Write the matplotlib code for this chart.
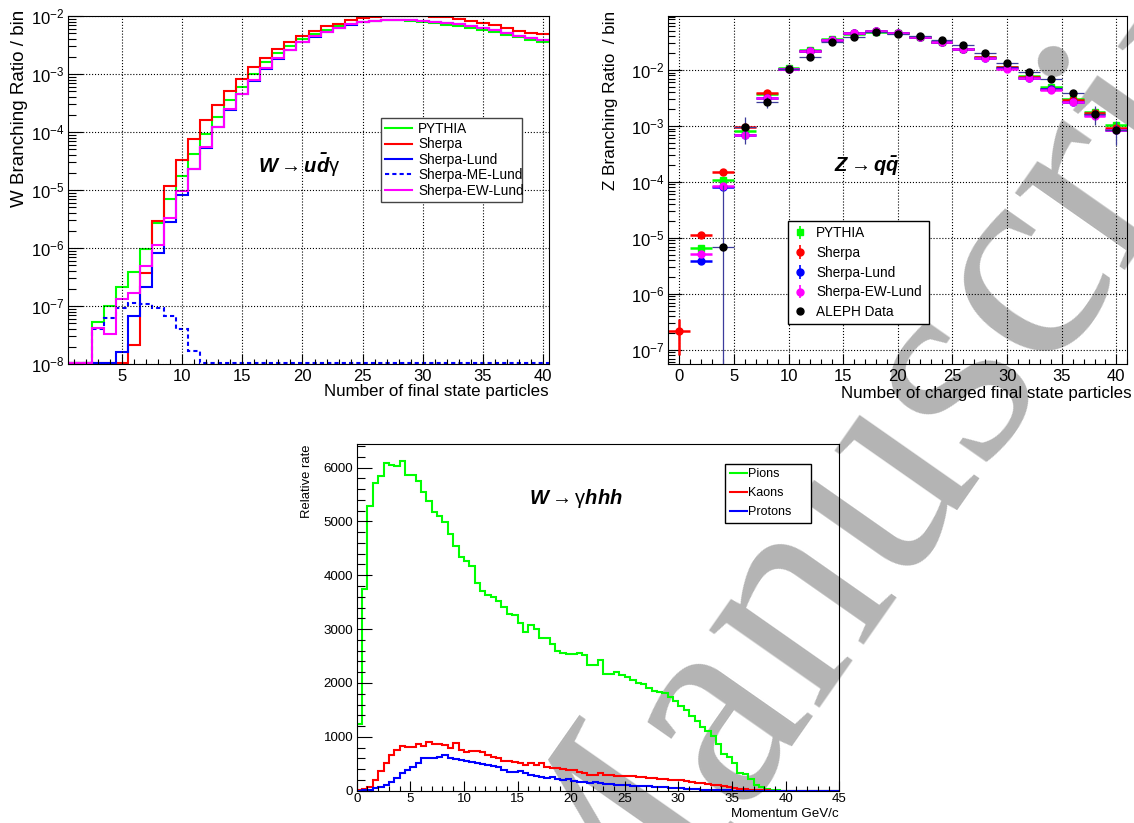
import numpy as np
import matplotlib
matplotlib.use('Agg')
import matplotlib.pyplot as plt
from matplotlib.ticker import MultipleLocator, LogLocator, NullFormatter
from matplotlib.lines import Line2D

plt.rcParams['font.family'] = ['Liberation Sans', 'DejaVu Sans']
plt.rcParams['mathtext.fontset'] = 'custom'
plt.rcParams['mathtext.rm'] = 'Liberation Sans'
plt.rcParams['mathtext.it'] = 'Liberation Sans:italic'
plt.rcParams['mathtext.bf'] = 'Liberation Sans:bold:italic'

nan = np.nan

# ---- W -> u dbar gamma : multiplicity of final state particles (n = 1..40)
w_n = np.arange(1, 41)
w_pythia = [0, 0, 5.4e-8, 1.0e-7, 2.15e-7, 3.8e-7, 9.5e-7, 2.7e-6, 7.1e-6, 1.75e-5,
            4.1e-5, 9.1e-5, 1.85e-4, 3.5e-4, 6.0e-4, 1.0e-3, 1.58e-3, 2.3e-3, 3.1e-3, 4.0e-3,
            4.9e-3, 5.7e-3, 6.6e-3, 7.3e-3, 7.8e-3, 8.2e-3, 8.4e-3, 8.4e-3, 8.2e-3, 7.9e-3,
            7.5e-3, 7.1e-3, 6.7e-3, 6.2e-3, 5.7e-3, 5.3e-3, 4.7e-3, 4.3e-3, 3.9e-3, 3.5e-3]
w_sherpa = [0, 0, 0, 0, 0, 2.1e-8, 3.7e-7, 2.9e-6, 1.17e-5, 3.3e-5,
            7.7e-5, 1.58e-4, 2.9e-4, 5.1e-4, 8.1e-4, 1.3e-3, 1.9e-3, 2.66e-3, 3.5e-3, 4.5e-3,
            5.6e-3, 6.6e-3, 7.4e-3, 8.5e-3, 9.3e-3, 9.8e-3, 1.0e-2, 1.0e-2, 1.0e-2, 9.9e-3,
            9.7e-3, 9.5e-3, 9.0e-3, 8.2e-3, 7.5e-3, 6.9e-3, 6.3e-3, 5.6e-3, 5.0e-3, 4.8e-3]
w_lund = [0, 0, 0, 0, 1.6e-8, 6.8e-8, 2.1e-7, 8.3e-7, 2.8e-6, 8.1e-6,
          2.3e-5, 5.4e-5, 1.2e-4, 2.4e-4, 4.5e-4, 7.7e-4, 1.24e-3, 1.85e-3, 2.6e-3, 3.55e-3,
          4.4e-3, 5.3e-3, 6.2e-3, 7.1e-3, 7.8e-3, 8.2e-3, 8.5e-3, 8.6e-3, 8.5e-3, 8.3e-3,
          8.0e-3, 7.6e-3, 7.2e-3, 6.7e-3, 6.2e-3, 5.7e-3, 5.1e-3, 4.6e-3, 4.2e-3, 3.8e-3]
w_me_lund = [0, 0, 4.0e-8, 6.1e-8, 9.1e-8, 1.14e-7, 1.1e-7, 9.1e-8, 6.7e-8, 4.0e-8,
             1.7e-8] + [0] * 29
w_ew_lund = [0, 0, 4.1e-8, 3.3e-8, 1.3e-7, 1.66e-7, 4.8e-7, 1.12e-6, 3.3e-6, 9.5e-6,
             2.3e-5, 5.6e-5, 1.22e-4, 2.45e-4, 4.6e-4, 7.8e-4, 1.25e-3, 1.87e-3, 2.62e-3, 3.6e-3,
             4.5e-3, 5.4e-3, 6.3e-3, 7.2e-3, 7.9e-3, 8.3e-3, 8.5e-3, 8.6e-3, 8.5e-3, 8.3e-3,
             8.0e-3, 7.6e-3, 7.2e-3, 6.7e-3, 6.2e-3, 5.7e-3, 5.1e-3, 4.6e-3, 4.2e-3, 3.8e-3]

# ---- Z -> q qbar : charged multiplicity (even n)
z_n = np.arange(0, 41, 2)
z_pythia = [nan, 6.6e-6, 1.1e-4, 8.1e-4, 3.7e-3, 1.1e-2, 2.28e-2, 3.5e-2, 4.4e-2, 4.8e-2, 4.5e-2,
            3.9e-2, 3.2e-2, 2.4e-2, 1.73e-2, 1.15e-2, 7.8e-3, 4.9e-3, 3.0e-3, 1.78e-3, 1.02e-3]
z_sherpa = [2.2e-7, 1.13e-5, 1.48e-4, 9.7e-4, 3.9e-3, 1.04e-2, 2.15e-2, 3.4e-2, 4.5e-2, 4.9e-2, 4.5e-2,
            3.9e-2, 3.2e-2, 2.4e-2, 1.7e-2, 1.12e-2, 7.6e-3, 4.6e-3, 2.85e-3, 1.7e-3, 9.2e-4]
z_sherpa_err = [1.4e-7] + [0] * 20
z_lund = [nan, 3.8e-6, 8.0e-5, 6.8e-4, 3.2e-3, 1.02e-2, 2.15e-2, 3.4e-2, 4.6e-2, 5.0e-2, 4.6e-2,
          3.9e-2, 3.1e-2, 2.35e-2, 1.65e-2, 1.07e-2, 7.3e-3, 4.5e-3, 2.65e-3, 1.55e-3, 8.4e-4]
z_ew_lund = [nan, 5.1e-6, 8.6e-5, 6.8e-4, 3.2e-3, 1.02e-2, 2.2e-2, 3.4e-2, 4.6e-2, 5.0e-2, 4.6e-2,
             3.9e-2, 3.1e-2, 2.34e-2, 1.64e-2, 1.06e-2, 7.2e-3, 4.45e-3, 2.64e-3, 1.5e-3, 8.5e-4]
z_aleph = [nan, nan, 6.9e-6, 9.5e-4, 2.7e-3, 1.03e-2, 1.73e-2, 3.2e-2, 3.9e-2, 4.7e-2, 4.4e-2,
           4.05e-2, 3.4e-2, 2.75e-2, 2.04e-2, 1.32e-2, 9.2e-3, 6.8e-3, 3.83e-3, 1.63e-3, 8.3e-4]
z_aleph_err = [nan, nan, 8.0e-5, 4.8e-4, 6.0e-4, 6e-4, 8e-4, 1.2e-3, 1.3e-3, 1.4e-3, 1.3e-3,
               1.2e-3, 1.1e-3, 1.0e-3, 8e-4, 7e-4, 6e-4, 5e-4, 6e-4, 6e-4, 3.8e-4]

# ---- W -> gamma h h h : hadron momentum spectra, 0.5 GeV/c bins
p_edges = np.arange(0, 45.01, 0.5)
pions = [1230, 3750, 5290, 5720, 5840, 6090, 6040, 6020, 6130, 5870,
         5870, 5750, 5550, 5380, 5180, 5100, 4980, 4770, 4550, 4340,
         4260, 4170, 3860, 3700, 3640, 3600, 3520, 3410, 3280, 3260,
         3120, 2950, 3070, 3010, 2840, 2840, 2720, 2590, 2560, 2540,
         2540, 2560, 2510, 2340, 2330, 2420, 2170, 2170, 2200, 2150,
         2110, 2050, 2000, 1980, 1910, 1850, 1830, 1810, 1740, 1660,
         1570, 1490, 1380, 1290, 1180, 1100, 1020, 870, 680, 620,
         520, 335, 310, 210, 105, 60, 30, 12, 5, 2,
         0, 0, 0, 0, 0, 0, 0, 0, 0, 0]
kaons = [15, 40, 75, 200, 365, 505, 660, 750, 825, 810,
         810, 865, 825, 905, 875, 865, 850, 785, 890, 755,
         720, 740, 740, 710, 660, 630, 615, 555, 555, 525,
         520, 475, 520, 475, 505, 445, 430, 415, 395, 385,
         385, 350, 320, 290, 300, 330, 300, 285, 280, 278,
         270, 265, 255, 250, 240, 235, 225, 210, 200, 195,
         190, 175, 170, 150, 140, 128, 115, 100, 85, 60,
         45, 35, 25, 18, 12, 8, 5, 3, 0, 0,
         0, 0, 0, 0, 0, 0, 0, 0, 0, 0]
protons = [3, 8, 20, 43, 74, 105, 167, 228, 333, 383,
           432, 506, 600, 600, 600, 630, 660, 600, 586, 568,
           556, 537, 519, 494, 475, 457, 444, 383, 340, 340,
           364, 321, 290, 278, 259, 228, 247, 216, 198, 210,
           185, 167, 154, 136, 167, 140, 120, 130, 115, 105,
           100, 95, 90, 85, 80, 75, 65, 60, 55, 50,
           45, 40, 32, 28, 22, 18, 14, 10, 7, 5,
           3, 0, 0, 0, 0, 0, 0, 0, 0, 0,
           0, 0, 0, 0, 0, 0, 0, 0, 0, 0]

GREEN, RED, BLUE, MAGENTA = '#00ff00', '#ff0000', '#0000ff', '#ff00ff'
W, H = 1134, 823


def fx(x):
    return x / W


def fy(y):
    return 1 - y / H


def root_axes(ax, fs):
    ax.set_facecolor('none')
    ax.tick_params(which='both', direction='in', top=False, right=False,
                   labelsize=fs, width=0.8, color='black')


def root_legend(ax, handles, x, y, w, fs, **kw):
    leg = ax.legend(handles=handles, loc='upper left', mode='expand',
                    bbox_to_anchor=(fx(x), fy(y), fx(w), 0), bbox_transform=fig.transFigure,
                    borderaxespad=0, fontsize=fs, frameon=True, fancybox=False,
                    edgecolor='black', framealpha=1, **kw)
    leg.get_frame().set_linewidth(1.0)
    return leg


fig = plt.figure(figsize=(W / 100, H / 100), dpi=100)
fig.patch.set_facecolor('white')

# ================= panel 1 =================
ax1 = fig.add_axes([fx(68.3), fy(364), fx(548.7 - 68.3), (364 - 16) / H])
root_axes(ax1, 12)
ymin1 = 1e-8
edges_w = np.append(w_n - 0.5, w_n[-1] + 0.5)
series_w = [(w_pythia, GREEN, '-', 'PYTHIA'),
            (w_sherpa, RED, '-', 'Sherpa'),
            (w_lund, BLUE, '-', 'Sherpa-Lund'),
            (w_me_lund, BLUE, (0, (2, 1.5)), 'Sherpa-ME-Lund'),
            (w_ew_lund, MAGENTA, '-', 'Sherpa-EW-Lund')]
handles1 = []
for vals, col, ls, lab in series_w:
    # empty bins sit on the floor of the log axis
    v = np.clip(np.array(vals, dtype=float), ymin1 * 1.05, None)
    ax1.stairs(v, edges_w, baseline=None, color=col, lw=1.5, ls=ls)
    handles1.append(Line2D([], [], color=col, lw=1.5, ls=ls, label=lab))
ax1.set_yscale('log')
ax1.set_xlim(0.5, 40.5)
ax1.set_ylim(ymin1, 1e-2)
ax1.xaxis.set_major_locator(MultipleLocator(5))
ax1.xaxis.set_minor_locator(MultipleLocator(1))
ax1.yaxis.set_major_locator(LogLocator(base=10, numticks=12))
ax1.yaxis.set_minor_locator(LogLocator(base=10, subs=np.arange(2, 10), numticks=12))
ax1.yaxis.set_minor_formatter(NullFormatter())
ax1.tick_params(axis='x', which='major', length=7, pad=3.5)
ax1.tick_params(axis='x', which='minor', length=3.5)
ax1.tick_params(axis='y', which='major', length=11, pad=3)
ax1.tick_params(axis='y', which='minor', length=5.5)
ax1.grid(True, which='major', ls=':', color='black', lw=0.8)
leg1 = root_legend(ax1, handles1, 380.7, 118, 141.3, 9.8, handlelength=2.0,
                   handletextpad=0.45, labelspacing=0.1, borderpad=0.3)
leg1.get_frame().set_edgecolor('#444444')
fig.text(fx(299), fy(165), r'$\mathbf{W}\rightarrow\mathbf{u\bar{d}}\mathrm{\gamma}$',
         ha='center', va='center', fontsize=14.5)
fig.text(fx(549), fy(392), 'Number of final state particles', ha='right', va='center', fontsize=12.2)
fig.text(fx(20), fy(10), 'W Branching Ratio / bin', rotation=90, ha='center', va='top', fontsize=13.5)

# ================= panel 2 =================
ax2 = fig.add_axes([fx(668.3), fy(364), fx(1127.3 - 668.3), (364 - 16) / H])
root_axes(ax2, 12)
series_z = [(z_pythia, GREEN, 's', 4.5, 'PYTHIA'),
            (z_sherpa, RED, 'o', 5, 'Sherpa'),
            (z_lund, BLUE, 'o', 5, 'Sherpa-Lund'),
            (z_ew_lund, MAGENTA, 'o', 5, 'Sherpa-EW-Lund')]
handles2 = []
for vals, col, mk, ms, lab in series_z:
    yerr = z_sherpa_err if lab == 'Sherpa' else None
    ax2.errorbar(z_n, vals, xerr=1, yerr=yerr, fmt=mk, ms=ms, color=col, ecolor=col,
                 elinewidth=1.8, capsize=0)
    handles2.append(ax2.errorbar([nan], [nan], yerr=[1], fmt=mk, ms=ms, color=col,
                                 elinewidth=1.2, capsize=0, label=lab))
ax2.errorbar(z_n, z_aleph, xerr=1, yerr=z_aleph_err, fmt='o', ms=5, color='black',
             ecolor='#3c3c9c', elinewidth=0.9, capsize=0, zorder=5)
handles2.append(Line2D([], [], ls='none', marker='o', ms=5, color='black', label='ALEPH Data'))
ax2.set_yscale('log')
ax2.set_xlim(-1, 41)
ax2.set_ylim(5.6e-8, 0.092)
ax2.xaxis.set_major_locator(MultipleLocator(5))
ax2.xaxis.set_minor_locator(MultipleLocator(1))
ax2.yaxis.set_major_locator(LogLocator(base=10, numticks=12))
ax2.yaxis.set_minor_locator(LogLocator(base=10, subs=np.arange(2, 10), numticks=12))
ax2.yaxis.set_minor_formatter(NullFormatter())
ax2.tick_params(axis='x', which='major', length=7, pad=3.5)
ax2.tick_params(axis='x', which='minor', length=3.5)
ax2.tick_params(axis='y', which='major', length=10, pad=3)
ax2.tick_params(axis='y', which='minor', length=5)
ax2.grid(True, which='major', ls=':', color='black', lw=0.8)
root_legend(ax2, handles2, 787.7, 220.7, 141.6, 9.8, handlelength=1.0,
            handletextpad=0.7, labelspacing=0.42, borderpad=0.4)
fig.text(fx(867), fy(166), r'$\mathbf{Z}\rightarrow\mathbf{q\bar{q}}$',
         ha='center', va='center', fontsize=14.5)
fig.text(fx(1132), fy(393), 'Number of charged final state particles', ha='right', va='center',
         fontsize=12.2)
fig.text(fx(610), fy(11), 'Z Branching Ratio  / bin', rotation=90, ha='center', va='top', fontsize=12.3)

# ================= panel 3 =================
ax3 = fig.add_axes([fx(356.7), fy(790.7), fx(839.3 - 356.7), (790.7 - 444) / H])
root_axes(ax3, 9.6)
handles3 = []
for vals, col, lab in [(pions, GREEN, 'Pions'), (kaons, RED, 'Kaons'), (protons, BLUE, 'Protons')]:
    ax3.stairs(vals, p_edges, baseline=None, color=col, lw=1.5)
    handles3.append(Line2D([], [], color=col, lw=1.5, label=lab))
ax3.set_xlim(0, 45)
ax3.set_ylim(0, 1.05 * max(pions))
ax3.xaxis.set_major_locator(MultipleLocator(5))
ax3.xaxis.set_minor_locator(MultipleLocator(1))
ax3.yaxis.set_major_locator(MultipleLocator(1000))
ax3.yaxis.set_minor_locator(MultipleLocator(200))
ax3.tick_params(axis='x', which='major', length=7, pad=2)
ax3.tick_params(axis='x', which='minor', length=3.5)
ax3.tick_params(axis='y', which='major', length=11, pad=2.5)
ax3.tick_params(axis='y', which='minor', length=5.5)
root_legend(ax3, handles3, 725.3, 464, 85.4, 9, handlelength=1.35,
            handletextpad=0.15, labelspacing=0.55, borderpad=0.35)
fig.text(fx(576), fy(498), r'$\mathbf{W}\rightarrow\mathrm{\gamma}\mathbf{hhh}$',
         ha='center', va='center', fontsize=14.5)
fig.text(fx(839), fy(814), 'Momentum GeV/c', ha='right', va='center', fontsize=9.6)
fig.text(fx(307), fy(444), 'Relative rate', rotation=90, ha='center', va='top', fontsize=9.4)

# watermark behind all axes
fig.text(fx(589), fy(1023), 'Manuscript', rotation=55, rotation_mode='anchor',
         ha='left', va='baseline', fontsize=210, family='Liberation Serif',
         color='#b4b4b4', zorder=-1)

fig.savefig('out.png', dpi=100, facecolor='white')
